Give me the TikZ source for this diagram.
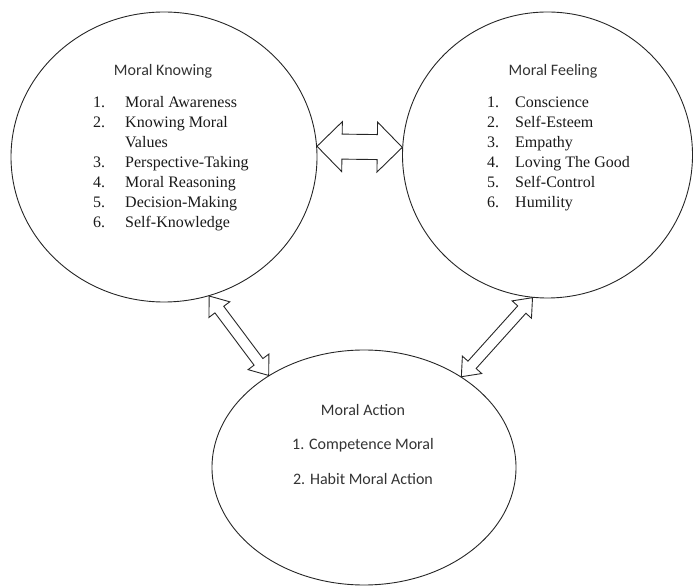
\documentclass[tikz,border=0pt]{standalone}
\usepackage{fontspec}
\setmainfont{Liberation Serif}
\newfontfamily\itemfont{Liberation Serif}
\newfontfamily\labelfont{Carlito}
\usetikzlibrary{shapes.geometric,calc}

\tikzset{
  circ/.style={draw=black!85, line width=0.9pt, ellipse, inner sep=0pt},
  head/.style={font=\labelfont\fontsize{16}{19}\selectfont, text=black!80, inner sep=0pt},
  items/.style={font=\itemfont\fontsize{16}{20}\selectfont, text=black!90, inner sep=0pt, align=left},
  fat/.style={draw=black!85, line width=0.9pt, line join=miter}
}

% hollow two-headed block arrow between two points
% #1 from, #2 to, #3 head length, #4 head half width, #5 shaft half width
\newcommand\twoway[5]{%
  \draw[fat] (#1)
    -- ($(#1)!#3!(#2)!#4!90:(#2)$)
    -- ($(#1)!#3!(#2)!#5!90:(#2)$)
    -- ($(#2)!#3!(#1)!#5!-90:(#1)$)
    -- ($(#2)!#3!(#1)!#4!-90:(#1)$)
    -- (#2)
    -- ($(#2)!#3!(#1)!#4!90:(#1)$)
    -- ($(#2)!#3!(#1)!#5!90:(#1)$)
    -- ($(#1)!#3!(#2)!#5!-90:(#2)$)
    -- ($(#1)!#3!(#2)!#4!-90:(#2)$)
    -- cycle;}

\begin{document}
\begin{tikzpicture}[x=1pt, y=1pt]
  \useasboundingbox (0,0) rectangle (693,586);

  % the three components
  \node[circ, minimum width=306pt, minimum height=290pt] (mk) at (164,429) {};
  \node[circ, minimum width=290pt, minimum height=286pt] (mf) at (547.5,431) {};
  \node[circ, minimum width=304pt, minimum height=235pt] (ma) at (364,118.5) {};

  % Moral Knowing
  \node[head, anchor=base] (mkt) at (163,510) {Moral Knowing};
  \node[items, anchor=base west] (mkl) at (93,478) {%
    \begin{tabular}[t]{@{}p{32pt}@{}l@{}}
      1. & Moral Awareness\\
      2. & Knowing Moral\\
         & Values\\
      3. & Perspective-Taking\\
      4. & Moral Reasoning\\
      5. & Decision-Making\\
      6. & Self-Knowledge
    \end{tabular}};

  % Moral Feeling
  \node[head, anchor=base] (mft) at (553,510) {Moral Feeling};
  \node[items, anchor=base west] (mfl) at (487,478) {%
    \begin{tabular}[t]{@{}p{28pt}@{}l@{}}
      1. & Conscience\\
      2. & Self-Esteem\\
      3. & Empathy\\
      4. & Loving The Good\\
      5. & Self-Control\\
      6. & Humility
    \end{tabular}};

  % Moral Action
  \node[head, anchor=base] (mat) at (363,170) {Moral Action};
  \node[head, anchor=base] (ma1) at (363,136) {1. Competence Moral};
  \node[head, anchor=base] (ma2) at (363,101) {2. Habit Moral Action};

  % links between the components
  \twoway{mk.4}{mf.177}{25pt}{25pt}{12.5pt}
  \twoway{mk.288}{ma.136}{17pt}{13pt}{5.5pt}
  \twoway{mf.264}{ma.43}{16pt}{13pt}{5.5pt}
\end{tikzpicture}
\end{document}
